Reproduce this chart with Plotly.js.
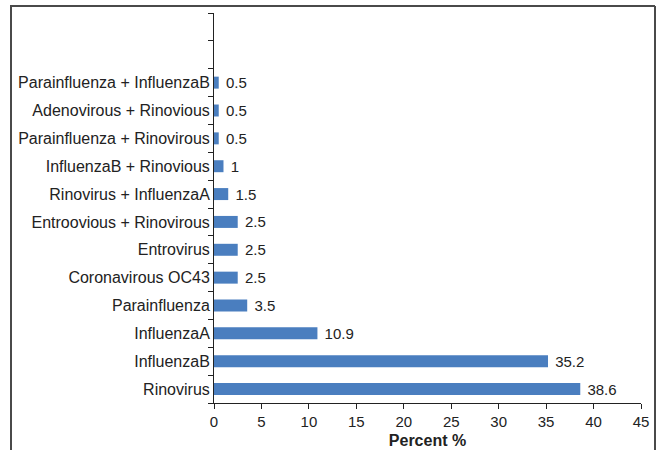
<!DOCTYPE html>
<html><head><meta charset="utf-8">
<script src="https://cdn.plot.ly/plotly-3.0.1.min.js"></script>
<style>body{margin:0;padding:0;background:#fff}#chart{width:657px;height:450px}</style>
</head><body><div id="chart"></div>
<script>
const categories = ["Rinovirus","InfluenzaB","InfluenzaA","Parainfluenza","Coronavirous OC43","Entrovirus","Entroovious + Rinovirous","Rinovirus + InfluenzaA","InfluenzaB + Rinovious","Parainfluenza + Rinovirous","Adenovirous + Rinovious","Parainfluenza + InfluenzaB"];
const emptySlots = [" ", "  "];
const percents = [38.6, 35.2, 10.9, 3.5, 2.5, 2.5, 2.5, 1.5, 1, 0.5, 0.5, 0.5];
const xTicks = [0,5,10,15,20,25,30,35,40,45];

const W = 657, H = 450, L = 214, R = 16, T = 13, B = 47;
const pw = W - L - R, ph = H - T - B;
const px = v => (v - L) / pw;
const py = v => 1 - (v - T) / ph;
const frame = {color:'#4a4a4a', width:2};
const FONT = 'Liberation Sans, Arial, sans-serif';

Plotly.newPlot('chart', [{
  type:'bar', orientation:'h',
  x: percents, y: categories,
  marker:{color:'#4A7EBF'},
  width:0.43,
  text: percents.map(v => '\u00a0' + String(v)), textposition:'outside',
  constraintext:'none',
  textfont:{family:FONT, size:15, color:'#222'},
  cliponaxis:false, hoverinfo:'none'
}], {
  width:W, height:H,
  margin:{l:L, r:R, t:T, b:B, pad:0},
  paper_bgcolor:'#fff', plot_bgcolor:'#fff',
  font:{family:FONT, size:15, color:'#222'},
  showlegend:false,
  xaxis:{range:[0,45], tickvals:xTicks, ticks:'outside', ticklen:5, tickcolor:'#222',
    showline:true, linecolor:'#222', linewidth:1, showgrid:false, zeroline:false,
    tickfont:{size:15}, title:{text:'<b>Percent %</b>', font:{size:16}, standoff:5}},
  yaxis:{type:'category', categoryorder:'array', categoryarray: categories.concat(emptySlots),
    range:[-0.5, 13.5], tickson:'boundaries', ticks:'outside', ticklen:5, tickcolor:'#222',
    showline:true, linecolor:'#222', linewidth:1, showgrid:false, zeroline:false,
    tickfont:{size:16}},
  shapes:[
    {type:'line', xref:'paper', yref:'paper', x0:px(11), x1:px(11), y0:py(6), y1:py(452), line:frame},
    {type:'line', xref:'paper', yref:'paper', x0:px(10), x1:px(655), y0:py(6), y1:py(6), line:frame},
    {type:'line', xref:'paper', yref:'paper', x0:px(655), x1:px(655), y0:py(6), y1:py(452), line:frame}
  ]
}, {staticPlot:true});
</script></body></html>
